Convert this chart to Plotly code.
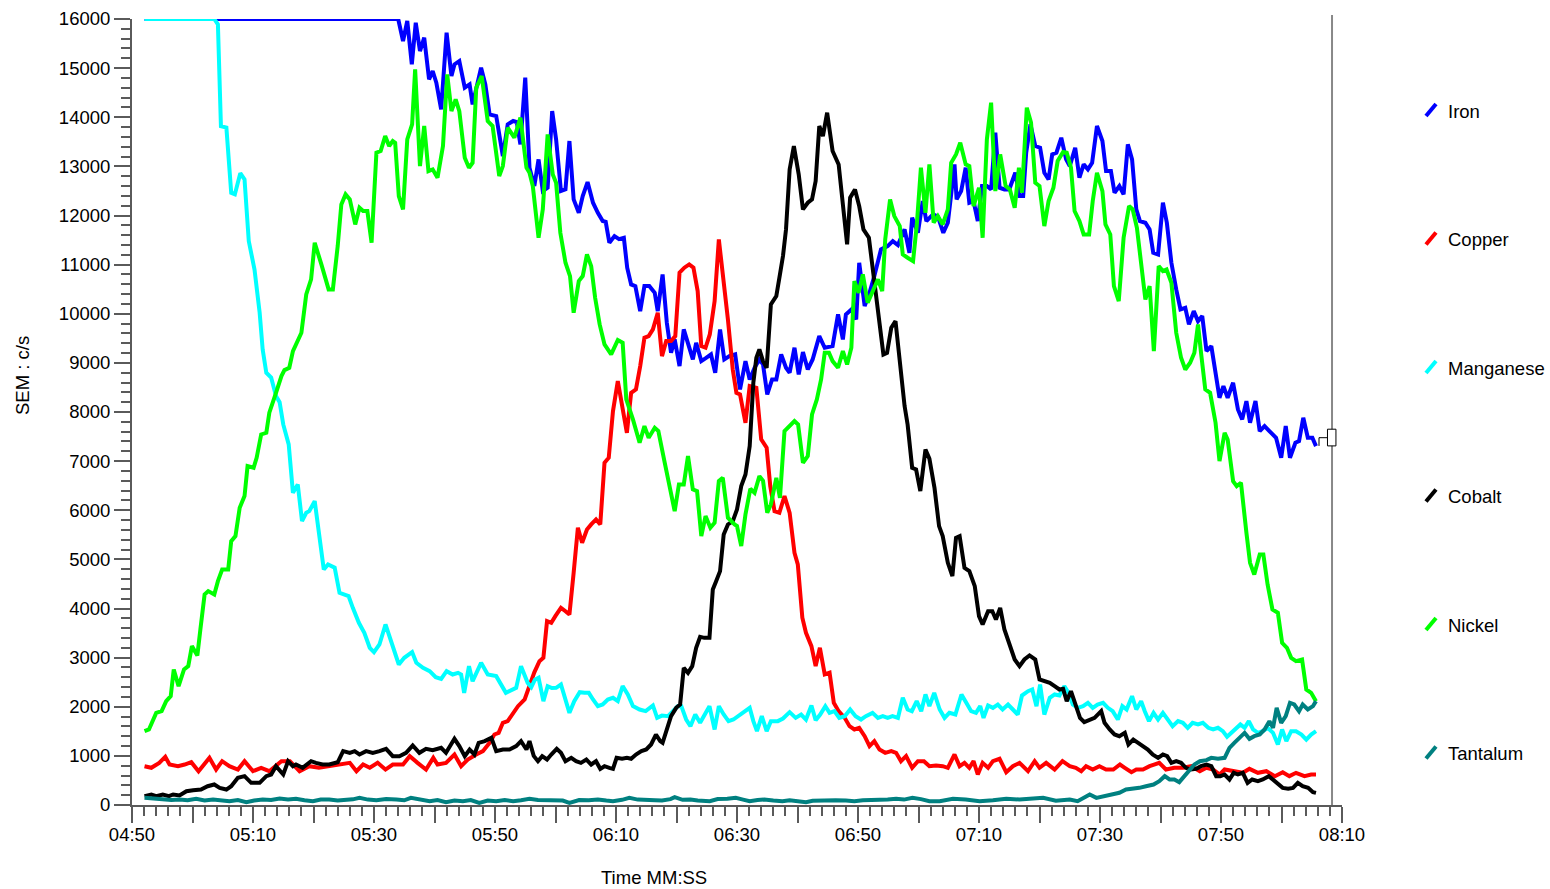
import plotly.graph_objects as go

# Elapsed seconds since 04:50 paired with SEM count rate (c/s) for each element
IRON = [
    (2.07, 16000), (44.0, 16000), (44.8, 15552), (45.5, 15959), (46.25, 15076), (46.9, 15925),
    (47.6, 15348), (48.3, 15619), (49.1, 14771), (49.7, 14941), (50.3, 14703), (51.1, 14160),
    (52.0, 15721), (52.8, 14839), (53.3, 15076), (54.1, 15144), (55.0, 14601), (55.8, 14669),
    (56.3, 14262), (56.9, 14601), (57.7, 15009), (58.4, 14669), (59.1, 14058), (60.2, 14025),
    (61.3, 13210), (62.1, 13855), (63.0, 13923), (63.6, 13900), (64.2, 13448), (65.0, 14805),
    (65.7, 12973), (66.5, 12600), (67.2, 13142), (67.9, 12497), (68.7, 12565), (69.45, 14126),
    (70.1, 13549), (70.9, 12497), (71.65, 12531), (72.3, 13516), (73.0, 12328), (73.85, 12056),
    (74.5, 12396), (75.3, 12681), (76.2, 12260), (77.0, 12056), (77.8, 11887), (78.3, 11870),
    (78.9, 11446), (79.75, 11581), (80.5, 11520), (81.3, 11548), (81.85, 10936), (82.5, 10597),
    (83.2, 10563), (84.0, 10054), (84.7, 10563), (85.5, 10563), (86.4, 10427), (86.9, 10054),
    (87.7, 10801), (88.4, 9817), (89.1, 9206), (89.7, 9477), (90.5, 8934), (91.2, 9681),
    (91.9, 9409), (92.7, 9070), (93.25, 9409), (94.1, 9036), (94.9, 9100), (95.7, 9172),
    (96.4, 8799), (97.2, 9681), (97.9, 9070), (98.75, 9138), (99.7, 9172), (100.5, 8459),
    (101.4, 9036), (102.1, 8663), (102.9, 8900), (103.7, 9070), (104.3, 8970), (105.0, 8357),
    (105.8, 8663), (106.5, 8663), (107.3, 9172), (108.1, 8900), (108.7, 8800), (109.5, 9308),
    (110.2, 8765), (110.9, 9219), (111.7, 8866), (112.5, 9070), (113.6, 9545), (114.5, 9308),
    (115.8, 9341), (116.7, 9986), (117.5, 9477), (118.0, 9986), (118.9, 10088), (119.7, 9884),
    (120.2, 11038), (121.1, 10156), (121.9, 10427), (122.7, 10767), (123.8, 11310), (124.9, 11378),
    (125.75, 11480), (126.6, 11400), (127.7, 11717), (128.5, 11242), (128.95, 11954), (129.9, 11649),
    (130.7, 12294), (131.3, 11887), (132.4, 12022), (133.2, 11980), (134.1, 11649), (134.85, 11853),
    (135.4, 12430), (135.95, 13040), (136.3, 12328), (137.05, 12497), (137.8, 12973), (138.4, 12260),
    (139.1, 12290), (139.8, 11887), (140.5, 12600), (141.3, 12600), (142.0, 12531), (142.7, 13685),
    (143.4, 12565), (144.2, 12531), (145.0, 12531), (146.0, 12871), (146.7, 12396), (147.3, 12396),
    (147.8, 13278), (148.5, 13855), (149.3, 13414), (150.1, 13380), (150.8, 12871), (151.5, 12735),
    (152.1, 13244), (152.8, 13278), (153.6, 13583), (154.4, 13142), (155.0, 13006), (155.9, 13380),
    (156.6, 12769), (157.3, 13040), (158.0, 12939), (158.7, 13074), (159.5, 13821), (160.4, 13516),
    (161.0, 12905), (161.8, 12905), (162.4, 12464), (163.2, 12600), (163.9, 12430), (164.6, 13448),
    (165.3, 13142), (166.0, 12124), (166.6, 11887), (167.5, 11853), (168.2, 11717), (168.8, 11242),
    (169.6, 11208), (170.4, 12260), (171.05, 11853), (171.8, 11038), (172.6, 10495), (173.3, 10088),
    (174.1, 10122), (174.7, 9783), (175.5, 10054), (176.2, 9850), (176.9, 9952), (177.6, 9240),
    (178.4, 9341), (179.2, 8731), (179.75, 8290), (180.4, 8527), (181.1, 8290), (182.0, 8595),
    (182.8, 8052), (183.5, 7849), (184.2, 8222), (184.8, 7781), (185.7, 8222), (186.4, 7611),
    (187.2, 7713), (188.0, 7611), (189.1, 7475), (189.95, 7068), (190.7, 7713), (191.4, 7068),
    (192.3, 7374), (192.9, 7408), (193.6, 7883), (194.35, 7475), (195.1, 7475), (195.7, 7306),
]

COPPER = [
    (2.07, 790), (3.2, 757), (4.5, 858), (5.5, 980), (6.2, 824), (7.6, 790), (8.7, 824),
    (9.8, 872), (11.0, 688), (12.8, 960), (13.9, 722), (14.9, 892), (16.1, 790), (17.5, 722),
    (18.6, 892), (20.0, 688), (21.35, 757), (22.7, 688), (24.7, 892), (26.1, 892), (27.7, 688),
    (29.3, 790), (30.9, 757), (32.6, 790), (33.8, 824), (36.0, 858), (37.1, 688), (38.2, 824),
    (39.3, 757), (40.6, 858), (41.9, 722), (43.1, 824), (44.8, 824), (45.9, 994), (47.2, 858),
    (48.6, 722), (49.8, 960), (50.5, 824), (51.9, 858), (53.3, 1028), (54.4, 790), (55.5, 926),
    (56.9, 1028), (58.0, 1096), (59.1, 1265), (59.9, 1435), (60.6, 1469), (61.3, 1673),
    (62.1, 1707), (63.0, 1876), (63.8, 2012), (64.9, 2148), (65.7, 2419), (66.5, 2700),
    (67.35, 2928), (68.0, 2996), (68.6, 3743), (69.3, 3709), (70.0, 3850), (70.9, 4014),
    (71.6, 3950), (72.3, 3878), (73.0, 4727), (73.7, 5643), (74.4, 5338), (75.2, 5609),
    (75.9, 5711), (76.7, 5813), (77.4, 5711), (78.1, 6967), (78.8, 7068), (79.5, 8018),
    (80.3, 8629), (81.1, 8120), (81.8, 7577), (82.5, 8391), (83.3, 8459), (84.0, 8934),
    (84.7, 9511), (85.4, 9545), (86.1, 9681), (86.9, 10020), (87.6, 9138), (88.3, 9443),
    (89.1, 9443), (89.8, 9545), (90.5, 10835), (91.3, 10937), (92.1, 11004), (92.8, 10937),
    (93.5, 10461), (94.1, 9341), (94.8, 9308), (95.5, 9579), (96.3, 10258), (97.0, 11513),
    (97.8, 10665), (98.5, 9884), (99.3, 8866), (99.9, 8391), (100.5, 8357), (101.4, 7781),
    (102.1, 8527), (103.2, 8493), (104.0, 7442), (104.9, 7272), (105.5, 6491), (106.2, 5982),
    (107.0, 5948), (107.85, 6288), (108.7, 5948), (109.5, 5134), (110.05, 4897), (110.8, 3811),
    (111.4, 3505), (112.3, 3234), (113.0, 2826), (113.7, 3200), (114.5, 2657), (115.3, 2691),
    (116.0, 2080), (116.8, 1910), (117.8, 1774), (118.6, 1605), (119.4, 1537), (120.2, 1571),
    (121.1, 1401), (121.9, 1198), (122.7, 1300), (123.55, 1130), (124.5, 1062), (125.5, 1096),
    (126.3, 1062), (127.1, 892), (127.95, 994), (128.95, 757), (129.9, 892), (130.9, 892),
    (131.8, 790), (132.9, 804), (134.0, 790), (134.85, 757), (135.95, 1028), (136.8, 790),
    (137.6, 858), (138.4, 757), (139.1, 892), (139.8, 621), (140.6, 858), (141.5, 757),
    (142.3, 892), (143.4, 940), (144.5, 668), (145.6, 790), (146.7, 858), (148.1, 688),
    (149.2, 892), (150.0, 757), (151.1, 858), (152.5, 722), (153.8, 892), (155.0, 790),
    (156.0, 757), (156.9, 688), (157.7, 790), (158.8, 722), (159.9, 790), (161.0, 722),
    (162.2, 722), (163.3, 824), (164.1, 757), (165.2, 668), (166.0, 722), (167.1, 722),
    (168.2, 790), (169.8, 858), (170.9, 722), (172.3, 757), (173.7, 757), (175.1, 790),
    (176.5, 688), (177.6, 757), (178.7, 722), (179.8, 621), (180.6, 722), (182.0, 688),
    (183.6, 655), (184.7, 736), (186.1, 655), (187.5, 688), (188.9, 587), (190.2, 668),
    (191.3, 587), (192.4, 655), (193.8, 587), (194.9, 621), (195.7, 621),
]

MANGANESE = [
    (2.07, 16000), (13.6, 16000), (14.2, 15890), (14.7, 13820), (15.6, 13790), (16.4, 12460),
    (17.0, 12430), (17.9, 12860), (18.6, 12735), (19.3, 11480), (20.25, 10900), (21.1, 10020),
    (21.6, 9270), (22.2, 8800), (23.0, 8700), (23.8, 8325), (24.4, 8200), (25.0, 7747),
    (25.9, 7340), (26.6, 6356), (27.4, 6525), (28.1, 5779), (28.8, 5948), (29.3, 5982),
    (30.2, 6186), (31.0, 5473), (31.7, 4795), (32.4, 4896), (33.5, 4830), (34.3, 4320),
    (34.9, 4286), (35.8, 4252), (36.5, 4014), (37.5, 3709), (38.4, 3505), (39.3, 3200),
    (40.0, 3112), (40.9, 3268), (41.9, 3675), (43.1, 3200), (44.1, 2860), (45.0, 2996),
    (46.3, 3112), (47.0, 2894), (48.1, 2792), (49.2, 2725), (50.2, 2602), (51.1, 2569),
    (52.0, 2725), (53.0, 2657), (53.9, 2691), (54.4, 2657), (54.9, 2284), (55.7, 2826),
    (56.3, 2521), (57.7, 2894), (58.8, 2657), (60.2, 2623), (61.8, 2284), (63.5, 2385),
    (64.3, 2826), (65.4, 2487), (66.0, 2400), (66.6, 2550), (67.2, 2589), (68.0, 2114),
    (68.7, 2419), (69.4, 2380), (70.1, 2385), (70.9, 2453), (71.65, 2114), (72.3, 1876),
    (73.1, 2114), (74.0, 2297), (74.8, 2283), (75.5, 2283), (76.2, 2148), (77.0, 2012),
    (77.8, 2046), (78.65, 2148), (79.5, 2182), (80.3, 2114), (81.1, 2419), (81.95, 2250),
    (82.8, 2012), (83.9, 1944), (84.9, 1910), (86.1, 2026), (86.8, 1774), (87.6, 1820),
    (88.6, 1808), (89.4, 1910), (90.2, 2012), (90.8, 2012), (91.6, 1740), (92.3, 1605),
    (93.1, 1842), (93.9, 1673), (94.6, 1842), (95.45, 2012), (96.3, 1537), (97.0, 2012),
    (97.8, 1842), (98.6, 1707), (99.4, 1740), (100.1, 1808), (101.0, 1876), (102.1, 1978),
    (102.7, 1707), (103.3, 1503), (104.1, 1808), (104.9, 1503), (105.6, 1707), (106.75, 1707),
    (107.6, 1760), (108.7, 1890), (109.7, 1774), (110.6, 1842), (111.4, 1740), (112.3, 2026),
    (113.0, 1727), (113.75, 1842), (114.6, 2012), (115.3, 1876), (116.1, 1910), (116.9, 1774),
    (117.8, 1808), (118.7, 1944), (119.6, 1808), (120.5, 1740), (121.3, 1808), (122.4, 1876),
    (123.3, 1774), (124.1, 1808), (124.9, 1774), (125.7, 1808), (126.6, 1774), (127.4, 2182),
    (128.2, 1944), (128.9, 1910), (129.7, 2114), (130.45, 1910), (131.15, 2250), (131.8, 2012),
    (132.6, 2283), (133.5, 1944), (134.3, 1774), (135.1, 1876), (136.1, 1842), (137.1, 2250),
    (137.9, 2080), (138.7, 1910), (139.5, 1876), (140.2, 2012), (140.75, 1774), (141.5, 2026),
    (142.3, 1978), (143.1, 2046), (143.9, 1944), (144.8, 2046), (145.6, 1944), (146.4, 1842),
    (147.1, 2229), (148.1, 2317), (148.8, 2351), (149.5, 2012), (150.1, 2453), (150.8, 1842),
    (151.7, 2182), (152.5, 2250), (153.3, 2229), (154.1, 2419), (154.8, 2283), (155.5, 2046),
    (156.3, 1978), (157.2, 2012), (158.0, 2080), (158.8, 1978), (159.6, 2046), (160.5, 2080),
    (161.3, 1978), (162.1, 1910), (162.95, 1740), (163.7, 2012), (164.4, 1944), (165.3, 2216),
    (166.0, 1944), (166.8, 2114), (167.4, 1910), (168.1, 1707), (168.85, 1876), (169.6, 1740),
    (170.4, 1876), (171.2, 1740), (172.0, 1605), (172.9, 1707), (173.7, 1673), (174.5, 1571),
    (175.3, 1673), (176.2, 1639), (177.0, 1673), (177.9, 1571), (178.7, 1537), (179.5, 1571),
    (180.3, 1503), (181.0, 1388), (181.7, 1469), (182.4, 1537), (183.2, 1639), (183.9, 1571),
    (184.6, 1707), (185.3, 1537), (186.1, 1469), (186.9, 1503), (187.7, 1571), (188.6, 1469),
    (189.4, 1232), (190.1, 1537), (190.8, 1300), (191.6, 1503), (192.4, 1503), (193.3, 1435),
    (194.1, 1333), (194.9, 1435), (195.7, 1503),
]

COBALT = [
    (2.07, 180), (3.2, 214), (4.0, 180), (5.1, 214), (6.1, 180), (6.8, 214), (7.85, 193),
    (9.0, 281), (10.1, 302), (11.4, 315), (12.5, 383), (13.6, 417), (14.5, 349), (15.6, 315),
    (16.4, 383), (17.5, 553), (18.6, 587), (19.7, 451), (21.1, 451), (22.2, 587), (23.0, 621),
    (23.8, 790), (25.0, 621), (25.8, 892), (26.6, 790), (27.1, 824), (28.2, 757), (29.6, 892),
    (30.4, 858), (31.5, 824), (32.6, 824), (33.5, 858), (34.0, 870), (34.9, 1096), (36.0, 1062),
    (36.8, 1096), (37.6, 1028), (38.7, 1096), (39.8, 1062), (40.9, 1096), (42.0, 1143),
    (43.1, 994), (44.2, 994), (45.3, 1062), (46.4, 1211), (47.5, 1062), (48.6, 1143),
    (49.7, 1116), (51.1, 1164), (51.9, 1062), (53.3, 1347), (54.1, 1198), (55.0, 994),
    (55.8, 1130), (56.6, 1028), (57.3, 1265), (58.3, 1300), (59.4, 1368), (60.2, 1096),
    (61.3, 1130), (62.4, 1130), (63.5, 1198), (64.3, 1300), (65.2, 1130), (65.7, 1300),
    (66.4, 1000), (67.1, 892), (67.8, 994), (68.6, 926), (69.3, 1028), (70.2, 1143),
    (70.9, 1062), (71.65, 892), (72.6, 960), (73.4, 892), (74.2, 858), (75.1, 926), (75.9, 824),
    (76.7, 892), (77.4, 736), (78.1, 790), (78.9, 757), (79.5, 736), (80.1, 960), (81.0, 940),
    (81.8, 960), (82.5, 940), (83.3, 1028), (84.2, 1096), (85.0, 1130), (85.8, 1232),
    (86.6, 1435), (87.3, 1300), (87.7, 1266), (88.4, 1571), (89.1, 1809), (89.95, 1978),
    (90.6, 2046), (91.2, 2792), (91.9, 2690), (92.6, 2826), (93.25, 3200), (93.9, 3424),
    (94.6, 3403), (95.45, 3403), (96.0, 4387), (96.55, 4557), (97.2, 4761), (97.8, 5507),
    (98.5, 5711), (99.3, 5779), (100.0, 6016), (100.7, 6491), (101.4, 6729), (102.1, 7306),
    (102.5, 8256), (102.7, 8595), (103.2, 9104), (103.7, 9274), (104.3, 9036), (104.9, 8900),
    (105.6, 10190), (106.5, 10360), (107.1, 10801), (107.6, 11174), (108.1, 11717),
    (108.7, 12939), (109.4, 13414), (110.2, 12837), (110.9, 12124), (111.7, 12260),
    (112.4, 12328), (113.0, 12701), (113.6, 13821), (114.2, 13617), (114.9, 14092),
    (115.8, 13312), (116.8, 13040), (117.5, 12158), (118.2, 11412), (118.7, 12362),
    (119.5, 12531), (120.2, 12192), (120.9, 11717), (121.8, 11547), (122.45, 10903),
    (123.3, 9952), (124.2, 9172), (124.8, 9206), (125.5, 9715), (126.2, 9850), (126.9, 9036),
    (127.7, 8120), (128.2, 7747), (128.95, 6865), (129.6, 6831), (130.3, 6390), (131.15, 7238),
    (131.8, 7050), (132.65, 6450), (133.4, 5677), (134.0, 5473), (134.85, 4930), (135.6, 4659),
    (136.2, 5439), (136.8, 5473), (137.6, 4829), (138.4, 4761), (139.3, 4455), (140.0, 3845),
    (140.6, 3675), (141.5, 3946), (142.2, 3946), (142.8, 3777), (143.5, 4014), (144.2, 3573),
    (145.0, 3302), (145.9, 2962), (146.7, 2826), (147.5, 2962), (148.35, 3044), (149.3, 2962),
    (150.0, 2555), (150.8, 2521), (151.7, 2487), (152.5, 2419), (153.3, 2351), (153.9, 2365),
    (154.5, 2114), (155.2, 2317), (156.0, 2012), (156.7, 1774), (157.4, 1686), (158.3, 1740),
    (159.1, 1774), (160.2, 1910), (160.75, 1673), (161.6, 1537), (162.4, 1435), (163.2, 1401),
    (164.1, 1469), (164.7, 1232), (165.5, 1333), (166.3, 1265), (167.1, 1198), (167.9, 1130),
    (168.7, 1028), (169.6, 960), (170.4, 1028), (171.1, 994), (171.8, 858), (172.6, 892),
    (173.4, 858), (174.2, 756), (175.0, 722), (175.9, 736), (176.7, 790), (177.6, 824),
    (178.4, 790), (179.2, 587), (179.9, 587), (180.6, 621), (181.4, 519), (182.1, 655),
    (182.8, 621), (183.6, 655), (184.4, 451), (185.15, 519), (186.1, 485), (186.9, 519),
    (187.9, 587), (188.6, 519), (189.4, 451), (190.2, 349), (191.1, 330), (191.9, 349),
    (192.7, 451), (193.5, 383), (194.4, 349), (195.2, 261), (195.7, 247),
]

NICKEL = [
    (2.07, 1503), (2.8, 1537), (4.0, 1876), (4.9, 1910), (5.65, 2114), (6.4, 2216), (6.9, 2759),
    (7.7, 2419), (8.6, 2759), (9.3, 2826), (9.9, 3234), (10.8, 3044), (11.3, 3573), (12.0, 4286),
    (12.6, 4354), (13.6, 4286), (14.2, 4557), (14.9, 4795), (15.9, 4795), (16.4, 5371),
    (17.1, 5473), (17.8, 6050), (18.6, 6288), (19.1, 6899), (20.1, 6865), (20.6, 7068),
    (21.35, 7543), (22.2, 7577), (22.7, 7985), (23.0, 8086), (23.8, 8391), (24.7, 8731),
    (25.2, 8853), (26.0, 8900), (26.6, 9240), (28.0, 9613), (28.8, 10394), (29.6, 10699),
    (30.2, 11446), (31.3, 11004), (32.5, 10495), (33.2, 10495), (34.0, 11378), (34.6, 12226),
    (35.3, 12430), (36.0, 12328), (36.9, 11819), (37.6, 12158), (38.2, 12090), (38.9, 12090),
    (39.6, 11446), (40.4, 13278), (41.1, 13312), (41.85, 13617), (42.5, 13414), (43.1, 13516),
    (43.5, 13480), (44.1, 12396), (44.8, 12124), (45.5, 13549), (46.3, 13855), (46.8, 14975),
    (47.6, 13006), (48.3, 13821), (49.0, 12905), (49.7, 12939), (50.5, 12769), (51.4, 13414),
    (52.1, 14873), (52.8, 14126), (53.5, 14364), (54.1, 14126), (55.0, 13176), (55.7, 12973),
    (56.3, 13074), (56.9, 14601), (57.8, 14839), (58.8, 13923), (59.6, 13821), (60.7, 12803),
    (61.3, 13006), (62.1, 13787), (63.2, 13584), (64.2, 13991), (65.2, 12973), (65.7, 12871),
    (66.25, 12600), (67.2, 11548), (67.9, 12124), (68.7, 13651), (69.55, 12837), (70.1, 12667),
    (70.8, 11649), (71.65, 11038), (72.4, 10767), (73.0, 10020), (73.85, 10665), (74.5, 10767),
    (75.2, 11208), (75.9, 10970), (76.55, 10326), (77.3, 9783), (78.1, 9376), (79.2, 9172),
    (80.3, 9464), (81.1, 9409), (81.7, 8256), (82.8, 7849), (83.9, 7373), (84.7, 7713),
    (85.4, 7475), (86.4, 7679), (87.0, 7611), (88.0, 7000), (88.8, 6491), (89.7, 5982),
    (90.4, 6525), (91.2, 6525), (91.9, 7102), (92.7, 6424), (93.4, 6390), (94.1, 5473),
    (94.8, 5881), (95.6, 5643), (96.3, 5745), (97.0, 6593), (97.65, 6661), (98.5, 5847),
    (99.6, 5711), (100.0, 5680), (100.7, 5270), (101.4, 5915), (102.2, 6437), (102.9, 6356),
    (103.7, 6695), (104.3, 6600), (105.0, 5948), (105.6, 6118), (106.5, 6661), (107.1, 6254),
    (107.85, 7611), (108.7, 7713), (109.5, 7815), (110.1, 7747), (110.9, 6966), (111.7, 7102),
    (112.4, 7950), (113.2, 8256), (113.9, 8663), (114.5, 9206), (115.2, 9206), (115.8, 9036),
    (116.7, 8900), (117.5, 9240), (118.2, 8968), (118.9, 9308), (119.4, 10665), (120.1, 10427),
    (120.8, 10801), (121.6, 10224), (122.4, 10427), (123.3, 10699), (124.0, 10461),
    (124.5, 11514), (125.3, 12328), (126.0, 11988), (126.9, 11785), (127.4, 11208),
    (128.2, 11140), (129.1, 11072), (129.7, 11785), (130.4, 12973), (131.15, 12056),
    (131.8, 13040), (132.5, 11853), (133.2, 11988), (134.0, 11819), (134.85, 12124),
    (135.4, 13074), (136.2, 13244), (136.9, 13482), (137.8, 13040), (138.4, 13006),
    (139.1, 12192), (140.0, 12565), (140.6, 11547), (141.3, 13549), (142.0, 14296),
    (142.7, 12497), (143.5, 13244), (144.4, 12600), (145.1, 12531), (145.9, 12158),
    (146.6, 12973), (147.1, 12464), (147.9, 14194), (148.6, 13889), (149.3, 12667),
    (150.0, 12600), (150.8, 11785), (151.5, 12294), (152.3, 12565), (153.0, 13108),
    (153.9, 13292), (154.5, 13278), (155.2, 12973), (155.8, 12090), (156.6, 11887),
    (157.3, 11615), (158.2, 11615), (158.8, 12294), (159.5, 12871), (160.4, 12497),
    (160.9, 11819), (161.7, 11615), (162.3, 10563), (163.1, 10258), (163.9, 11547),
    (164.8, 12192), (165.4, 12124), (166.1, 11751), (166.8, 11038), (167.5, 10292),
    (168.2, 10563), (168.9, 9240), (169.7, 10970), (170.4, 10868), (171.0, 10900),
    (171.8, 10631), (172.6, 9613), (173.4, 9104), (174.1, 8866), (174.9, 9002), (175.6, 9206),
    (176.2, 9783), (176.7, 9206), (177.4, 8459), (178.2, 8391), (179.1, 7781), (179.75, 7000),
    (180.6, 7577), (181.1, 7441), (182.0, 6593), (182.6, 6491), (183.3, 6559), (184.2, 5541),
    (184.8, 4930), (185.5, 4693), (186.4, 5100), (187.0, 5100), (187.7, 4489), (188.5, 3980),
    (189.4, 3912), (190.1, 3302), (190.9, 3200), (191.6, 2996), (192.4, 2928), (193.4, 2962),
    (194.1, 2351), (194.9, 2283), (195.7, 2114),
]

TANTALUM = [
    (2.07, 146), (3.5, 130), (5.1, 125), (6.5, 100), (7.85, 112), (9.2, 95), (10.6, 125),
    (12.0, 90), (13.4, 112), (14.8, 100), (16.1, 78), (17.5, 100), (18.9, 58), (20.2, 90),
    (21.6, 112), (23.0, 100), (24.4, 132), (25.8, 110), (27.1, 125), (28.5, 95), (29.9, 78),
    (31.2, 110), (32.6, 112), (34.0, 90), (35.4, 98), (36.5, 115), (37.6, 146), (39.0, 110),
    (40.4, 98), (42.0, 120), (43.7, 112), (45.0, 95), (46.1, 146), (47.6, 110), (49.2, 78),
    (50.5, 100), (51.9, 58), (53.3, 90), (54.7, 78), (56.0, 100), (57.4, 44), (58.8, 90),
    (60.2, 78), (61.6, 100), (63.0, 78), (64.3, 95), (65.7, 125), (67.1, 100), (68.5, 98),
    (70.0, 110), (71.2, 90), (72.3, 44), (73.9, 100), (75.5, 98), (77.0, 110), (78.4, 90),
    (79.5, 78), (81.0, 105), (82.2, 146), (83.6, 110), (85.0, 112), (86.5, 98), (87.6, 90),
    (89.0, 120), (89.7, 159), (91.0, 105), (92.3, 112), (93.5, 90), (95.5, 78), (96.8, 120),
    (98.4, 125), (99.8, 146), (101.0, 110), (102.1, 78), (103.4, 100), (104.5, 112), (106.0, 90),
    (107.5, 78), (108.7, 95), (110.0, 78), (111.4, 58), (112.5, 85), (113.6, 90), (115.0, 112),
    (116.3, 98), (118.0, 90), (119.4, 78), (120.8, 95), (122.4, 90), (123.6, 105), (124.9, 112),
    (126.3, 125), (127.6, 110), (129.0, 146), (130.4, 120), (131.8, 78), (133.5, 78),
    (135.7, 125), (137.8, 112), (140.1, 78), (142.3, 98), (144.5, 125), (146.7, 112),
    (148.4, 125), (150.6, 146), (152.7, 85), (155.0, 112), (156.3, 78), (157.2, 146),
    (158.3, 214), (159.4, 146), (160.5, 180), (161.85, 214), (163.2, 248), (164.3, 316),
    (165.4, 329), (166.5, 349), (167.6, 383), (168.85, 417), (169.8, 485), (170.7, 587),
    (171.5, 519), (172.3, 519), (173.1, 465), (174.0, 587), (174.8, 722), (175.6, 824),
    (176.5, 892), (177.6, 913), (178.4, 960), (179.5, 940), (180.6, 960), (181.4, 1164),
    (182.2, 1265), (183.1, 1368), (183.9, 1469), (184.7, 1347), (185.5, 1401), (186.4, 1435),
    (187.2, 1537), (188.0, 1707), (188.6, 1571), (189.2, 1978), (189.95, 1673), (190.7, 1808),
    (191.4, 2080), (192.1, 2046), (192.9, 1910), (193.5, 2046), (194.35, 1944), (195.2, 2012),
    (195.7, 2114),
]

SERIES = [
    ("Iron", IRON, "#0000ff"),
    ("Copper", COPPER, "#ff0000"),
    ("Manganese", MANGANESE, "#00ffff"),
    ("Cobalt", COBALT, "#000000"),
    ("Nickel", NICKEL, "#00ff00"),
    ("Tantalum", TANTALUM, "#008080"),
]

# Time axis: seconds after 04:50, labelled every 20 s, long ticks every 10 s
START_SECONDS = 4 * 60 + 50
X_END = 200
MAJOR_TICKS = list(range(0, X_END + 1, 10))
TICK_LABELS = [
    "%02d:%02d" % divmod(START_SECONDS + s, 60) if s % 20 == 0 else "" for s in MAJOR_TICKS
]

# Cursor marker at the right of the trace area
CURSOR_T = 198.35
CURSOR_BOX = (197.6, 199.0, 7310, 7650)
CURSOR_LINK = (196.2, 7310, 7477)

W, H = 1550, 889
L, R, T, B = 132, 208, 19, 84
PW, PH = W - L - R, H - T - B
FONT = "Liberation Sans, Arial, sans-serif"
FS = 18.5
AXIS_GREY = "#5a5a5a"


def px_to_paper(px, py):
    return (px - L) / PW, (H - B - py) / PH


fig = go.Figure()
for name, pts, color in SERIES:
    fig.add_trace(go.Scatter(
        x=[p[0] for p in pts], y=[p[1] for p in pts], name=name, mode="lines",
        line=dict(color=color, width=4), showlegend=False,
    ))

shapes = []
annotations = []

# Hand-placed legend: short slanted stroke followed by the element name
LEGEND_Y = [110, 238.5, 367, 495.5, 624, 752.5]
for (name, _, color), cy in zip(SERIES, LEGEND_Y):
    x0, y0 = px_to_paper(1426, cy + 6)
    x1, y1 = px_to_paper(1436, cy - 6)
    shapes.append(dict(type="line", xref="paper", yref="paper", x0=x0, y0=y0, x1=x1, y1=y1,
                       line=dict(color=color, width=4)))
    tx, ty = px_to_paper(1446, cy + 1)
    annotations.append(dict(text=name, xref="paper", yref="paper", x=tx, y=ty,
                            xanchor="left", yanchor="middle", showarrow=False,
                            font=dict(family=FONT, size=FS, color="#000000")))

# Axis titles
ax, ay = px_to_paper(22, 376)
annotations.append(dict(text="SEM : c/s", xref="paper", yref="paper", x=ax, y=ay, textangle=-90,
                        xanchor="center", yanchor="middle", showarrow=False,
                        font=dict(family=FONT, size=FS, color="#000000")))
bx, by = px_to_paper(654, 878)
annotations.append(dict(text="Time MM:SS", xref="paper", yref="paper", x=bx, y=by,
                        xanchor="center", yanchor="middle", showarrow=False,
                        font=dict(family=FONT, size=FS, color="#000000")))

# Cursor line, link and handle box
_, top = px_to_paper(0, 15)
shapes.append(dict(type="line", xref="x", yref="paper", x0=CURSOR_T, x1=CURSOR_T, y0=0, y1=top,
                   line=dict(color="#888888", width=2)))
lx, ly0, ly1 = CURSOR_LINK
shapes.append(dict(type="path", xref="x", yref="y",
                   path=f"M {lx},{ly0} L {lx},{ly1} L {CURSOR_BOX[0]},{ly1}",
                   line=dict(color="#000000", width=1)))
shapes.append(dict(type="rect", xref="x", yref="y", x0=CURSOR_BOX[0], x1=CURSOR_BOX[1],
                   y0=CURSOR_BOX[2], y1=CURSOR_BOX[3], fillcolor="#ffffff",
                   line=dict(color="#000000", width=1)))

fig.update_layout(
    width=W, height=H,
    margin=dict(l=L, r=R, t=T, b=B, autoexpand=False),
    paper_bgcolor="#ffffff", plot_bgcolor="#ffffff",
    font=dict(family=FONT, size=FS, color="#000000"),
    showlegend=False,
    shapes=shapes, annotations=annotations,
    xaxis=dict(
        range=[0, X_END], tickmode="array", tickvals=MAJOR_TICKS, ticktext=TICK_LABELS,
        showgrid=False, zeroline=False, showline=True, linecolor=AXIS_GREY, linewidth=2,
        ticks="outside", ticklen=16, tickwidth=2, tickcolor=AXIS_GREY,
        minor=dict(tickmode="linear", tick0=0, dtick=2, ticks="outside", ticklen=9,
                   tickwidth=2, tickcolor=AXIS_GREY, showgrid=False),
        tickfont=dict(family=FONT, size=FS, color="#000000"),
        ticklabelstandoff=-4,
    ),
    yaxis=dict(
        range=[0, 16000], tickmode="linear", tick0=0, dtick=1000, tickformat="d",
        showgrid=False, zeroline=False, showline=True, linecolor=AXIS_GREY, linewidth=2,
        ticks="outside", ticklen=16, tickwidth=2, tickcolor=AXIS_GREY,
        minor=dict(tickmode="linear", tick0=0, dtick=200, ticks="outside", ticklen=9,
                   tickwidth=2, tickcolor=AXIS_GREY, showgrid=False),
        tickfont=dict(family=FONT, size=FS, color="#000000"),
    ),
)

fig.write_html("out.html")
